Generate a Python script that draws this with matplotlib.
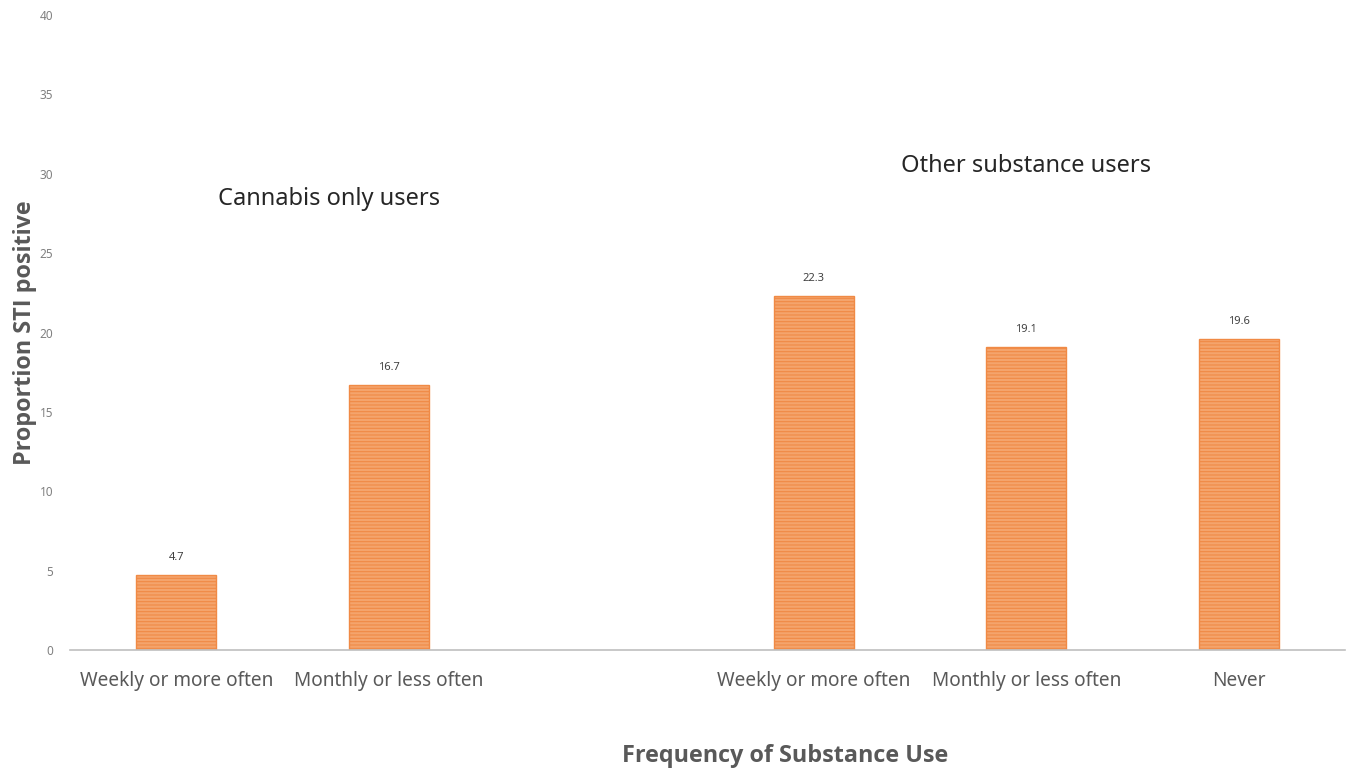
import matplotlib
matplotlib.use("Agg")
import matplotlib.pyplot as plt

plt.rcParams['font.family'] = ['Noto Sans', 'DejaVu Sans']
plt.rcParams['hatch.color'] = '#F9CBA5'
plt.rcParams['hatch.linewidth'] = 0.8

categories = ["Weekly or more often", "Monthly or less often", "",
              "Weekly or more often", "Monthly or less often", "Never"]
values = [4.7, 16.7, None, 22.3, 19.1, 19.6]
group_labels = ["Cannabis only users", "Other substance users"]

fig = plt.figure(figsize=(13.52, 7.75), dpi=100)
ax = fig.add_axes([0.0518, 0.1613, 0.943, 0.8193])

xs = list(range(len(categories)))
for x, v in zip(xs, values):
    if v is None:
        continue
    ax.bar(x, v, width=0.376, color='#F4A46C', edgecolor='#F08A45',
           linewidth=1.0, hatch='-----')
    ax.text(x, v + 0.75, f"{v}", ha='center', va='bottom', fontsize=8, color='#404040')

ax.set_xlim(-0.5, len(categories) - 0.5)
ax.set_ylim(0, 40)
ax.set_yticks(range(0, 41, 5))
ax.set_xticks(xs)
ax.set_xticklabels(categories, fontsize=13.7, color='#595959')
ax.tick_params(axis='y', labelsize=8.5, colors='#808080', length=0, pad=12)
ax.tick_params(axis='x', length=0, pad=15)
for s in ['top', 'right', 'left']:
    ax.spines[s].set_visible(False)
ax.spines['bottom'].set_color('#BFBFBF')
ax.spines['bottom'].set_linewidth(1.2)

ax.text(0.72, 28.4, group_labels[0], ha='center', va='center', fontsize=17, color='#262626')
ax.text(4.0, 30.5, group_labels[1], ha='center', va='center', fontsize=17, color='#262626')

ax.set_ylabel("Proportion STI positive", fontsize=16.8, fontweight='bold', color='#595959',
              labelpad=2, family=['Open Sans', 'DejaVu Sans'])
fig.text(0.581, 0.024, "Frequency of Substance Use", ha='center', va='center',
         fontsize=16.8, fontweight='bold', color='#595959', family=['Open Sans', 'DejaVu Sans'])

fig.savefig("out.png", dpi=100, facecolor='white')
